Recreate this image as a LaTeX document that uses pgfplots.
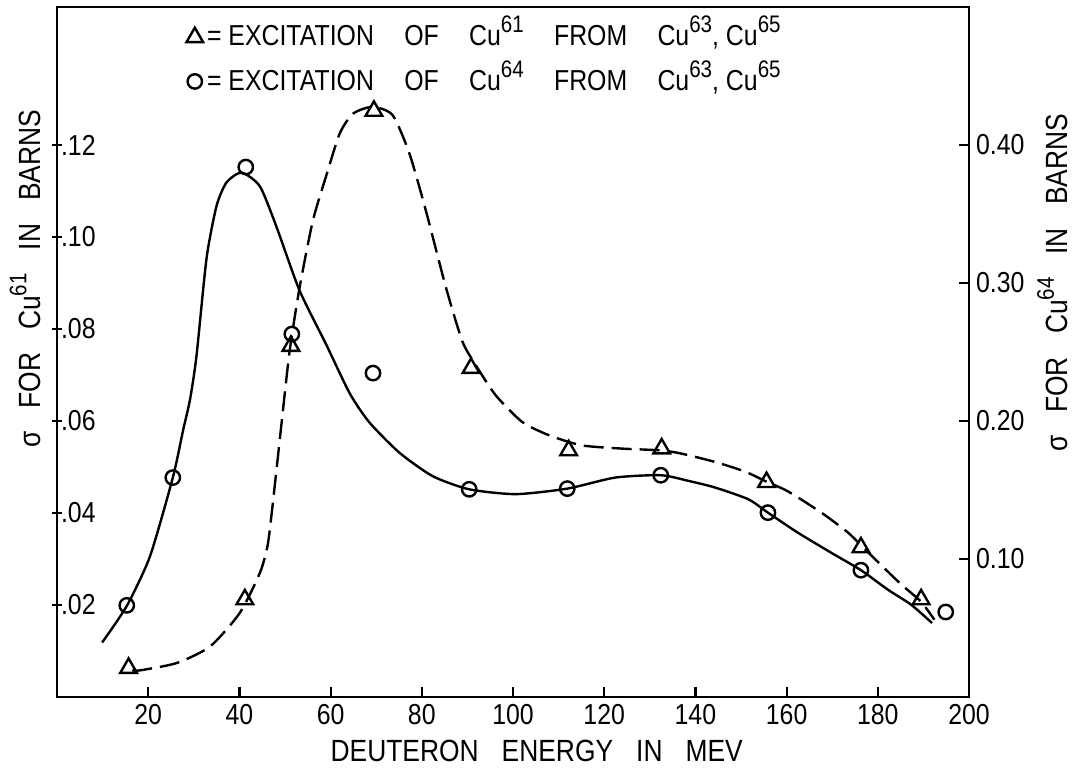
\documentclass[border=0pt]{standalone}
\usepackage{pgfplots}
\pgfplotsset{compat=1.18}
\usepackage{pgfplotstable}
\usepackage{fontspec}
\setmainfont{Liberation Sans}[FakeStretch=0.86]

% Cu61 points (left axis, barns)
\pgfplotstableread{
x y
15.7 0.0063
41.2 0.0212
51.3 0.0763
69.5 0.1274
90.8 0.0715
112.2 0.0536
132.6 0.0540
155.6 0.0467
176.3 0.0325
189.5 0.0212
}\cusixone

% hand drawn dashed curve through Cu61 points
\pgfplotstableread{
x y
16.5 0.0058
18.3 0.0058
26.3 0.0074
33.6 0.0110
40.1 0.0183
44.5 0.0270
46.2 0.0330
47.2 0.0410
48.2 0.0500
49.2 0.0591
51.0 0.0751
53.2 0.0890
56.1 0.1035
59.1 0.1135
62.0 0.1225
64.9 0.1268
69.2 0.1283
73.6 0.1265
77.3 0.1181
80.9 0.1057
85.3 0.0890
88.9 0.0773
91.8 0.0722
96.2 0.0656
102.0 0.0598
107.9 0.0569
115.1 0.0547
123.9 0.0540
132.6 0.0536
137.0 0.0529
144.3 0.0511
150.9 0.0490
155.6 0.0468
160.3 0.0447
167.6 0.0401
173.4 0.0358
176.3 0.0330
180.7 0.0287
185.1 0.0245
189.5 0.0207
192.4 0.0168
}\cusixonecurve

% Cu64 points (right axis, barns)
\pgfplotstableread{
x y
15.3 0.0664
25.4 0.159
41.4 0.384
51.5 0.263
69.3 0.2347
90.4 0.1505
111.9 0.151
132.4 0.1607
155.9 0.1336
176.3 0.0919
194.9 0.0616
}\cusixfour

% hand drawn solid curve through Cu64 points
\pgfplotstableread{
x y
9.9 0.0395
15.3 0.066
20.4 0.102
25.4 0.159
27.7 0.194
29.2 0.216
30.6 0.2475
32.8 0.318
35.0 0.356
37.2 0.373
40.5 0.380
44.5 0.370
48.1 0.341
53.2 0.2945
59.1 0.255
64.2 0.2200
68.5 0.199
75.1 0.177
82.4 0.160
90.4 0.1505
100.6 0.147
111.9 0.151
122.4 0.159
132.4 0.1607
138.5 0.1566
144.3 0.1518
151.6 0.1433
155.9 0.1336
162.5 0.119
169.8 0.1045
176.3 0.0919
182.2 0.0778
187.3 0.0669
191.9 0.0536
}\cusixfourcurve

\newcommand\wsp{\hspace{0.75em}}
\newcommand\lsp{\hspace{1.05em}}
\newcommand\sups[1]{\smash{\raisebox{0.45em}{\fontsize{12}{12}\selectfont #1}}}

\begin{document}
\begin{tikzpicture}
\pgfplotsset{
  common/.style={
    scale only axis, width=456bp, height=345bp,
    xmin=0, xmax=200,
    axis line style={line width=1.4bp},
    every tick/.style={black, line width=1.1bp},
    major tick length=5bp,
    tick label style={font=\fontsize{14.5}{16}\selectfont},
    label style={font=\fontsize{15.4}{17}\selectfont},
    /pgf/number format/assume math mode=true,
  },
}
\begin{axis}[common, name=ax,
  ymin=0, ymax=0.15,
  xtick={20,40,...,200}, xtick pos=bottom, xtick align=inside,
  ytick={0.02,0.04,0.06,0.08,0.10,0.12},
  yticklabels={.02,.04,.06,.08,.10,.12},
  ytick pos=left, ytick align=center,
  yticklabel style={anchor=west, xshift=1bp},
  xlabel={DEUTERON\wsp ENERGY\wsp IN\wsp MEV},
  xlabel style={at={(axis description cs:0.526,-0.078)}, anchor=center},
  ylabel={σ\wsp FOR\wsp Cu\sups{61}\wsp IN\wsp BARNS},
  ylabel style={at={(axis description cs:-0.030,0.606)}, anchor=center},
]
\addplot[black, line width=1.2bp, dash pattern=on 10bp off 4bp, smooth, tension=0.4]
  table {\cusixonecurve};
\addplot[only marks, mark=triangle, mark size=4.8bp,
  mark options={solid, fill=white, draw=black, line width=1.2bp}]
  table {\cusixone};
\end{axis}

\begin{axis}[common,
  ymin=0, ymax=0.5,
  axis x line=none, axis y line*=right,
  ytick={0.1,0.2,0.3,0.4},
  yticklabels={0.10,0.20,0.30,0.40},
  tick align=inside,
  ylabel={σ\wsp FOR\wsp Cu\sups{64}\wsp IN\wsp BARNS},
  ylabel style={at={(axis description cs:1.0965,0.60)}, anchor=center},
  legend style={draw=none, fill=none, at={(axis description cs:0.135,0.985)},
    anchor=north west, font=\fontsize{14.5}{17}\selectfont, row sep=6.5bp},
  legend cell align=left,
]
\addlegendimage{only marks, mark=triangle, mark size=4.8bp,
  mark options={solid, fill=white, draw=black, line width=1.2bp}}
\addlegendentry{= EXCITATION\lsp OF\lsp Cu\sups{61}\lsp FROM\lsp Cu\sups{63}, Cu\sups{65}}
\addplot[black, line width=1.2bp, smooth, tension=0.4, forget plot]
  table {\cusixfourcurve};
\addplot[only marks, mark=o, mark size=3.6bp,
  mark options={fill=white, draw=black, line width=1.2bp}]
  table {\cusixfour};
\addlegendentry{= EXCITATION\lsp OF\lsp Cu\sups{64}\lsp FROM\lsp Cu\sups{63}, Cu\sups{65}}
\end{axis}

\pgfresetboundingbox
\path[use as bounding box] ([xshift=-28.5bp,yshift=-37.5bp]ax.south west)
  rectangle ([xshift=58bp,yshift=3.5bp]ax.north east);
\end{tikzpicture}
\end{document}
